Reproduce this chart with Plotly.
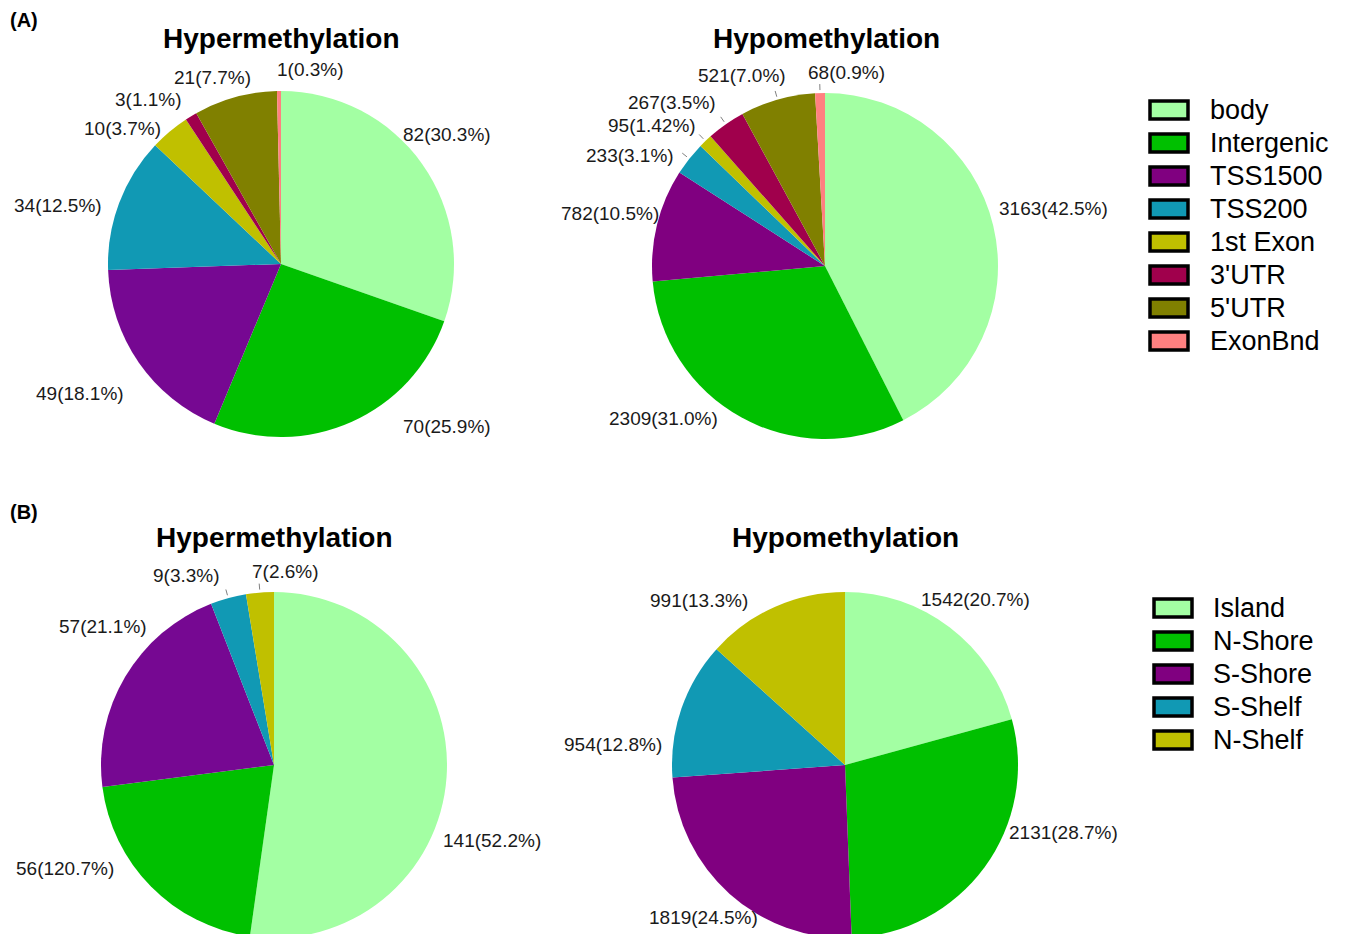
import math
import plotly.graph_objects as go

# ---- data ----
gene_regions = ["body", "Intergenic", "TSS1500", "TSS200", "1st Exon", "3'UTR", "5'UTR", "ExonBnd"]
gene_hyper = [82, 70, 49, 34, 10, 3, 21, 1]
gene_hyper_text = ["82(30.3%)", "70(25.9%)", "49(18.1%)", "34(12.5%)", "10(3.7%)", "3(1.1%)", "21(7.7%)", "1(0.3%)"]
gene_hypo = [3163, 2309, 782, 233, 95, 267, 521, 68]
gene_hypo_text = ["3163(42.5%)", "2309(31.0%)", "782(10.5%)", "233(3.1%)", "95(1.42%)", "267(3.5%)", "521(7.0%)", "68(0.9%)"]

cpg_regions = ["Island", "N-Shore", "S-Shore", "S-Shelf", "N-Shelf"]
cpg_hyper = [141, 56, 57, 9, 7]
cpg_hyper_text = ["141(52.2%)", "56(120.7%)", "57(21.1%)", "9(3.3%)", "7(2.6%)"]
cpg_hypo = [1542, 2131, 1819, 954, 991]
cpg_hypo_text = ["1542(20.7%)", "2131(28.7%)", "1819(24.5%)", "954(12.8%)", "991(13.3%)"]

gene_colors = ["#A3FFA3", "#00C000", "#800080", "#1199B4", "#C0C000", "#A0004C", "#808000", "#FF8080"]
gene_colors_hyper = ["#A3FFA3", "#00C000", "#760892", "#1199B4", "#C0C000", "#A0004C", "#808000", "#FF8080"]
cpg_colors = ["#A3FFA3", "#00C000", "#800080", "#1199B4", "#C0C000"]
cpg_colors_hyper = ["#A3FFA3", "#00C000", "#760892", "#1199B4", "#C0C000"]

# label placement around each pie: (angle nudge from slice middle in degrees, distance from centre in px)
gene_hyper_lbl = [(-2.6, 211), (-21.7, 232), (2.0, 239), (-5.9, 231), (-9.5, 208), (-7.4, 211), (-4.7, 199), (9.2, 197)]
gene_hypo_lbl = [(-0.7, 236), (17.8, 222), (0.0, 221), (-8.7, 224), (-7.1, 223), (-8.0, 224), (-7.6, 208), (7.9, 195)]
cpg_hyper_lbl = [(15.2, 231), (18.2, 233), (8.2, 220), (-9.3, 209), (8.2, 194)]
cpg_hypo_lbl = [(0.8, 211), (-19.2, 229), (0.9, 208), (-14.0, 233), (-17.5, 220)]
# slices whose label gets a short leader tick at the rim
gene_hyper_tick = [False] * 8
gene_hypo_tick = [False, False, False, True, True, True, True, True]
cpg_hyper_tick = [False, False, False, True, True]
cpg_hypo_tick = [False] * 5

W, H = 1349, 940
FONT = "Liberation Sans, Arial, sans-serif"
TXT = "#1a1a1a"


def px_x(x):
    return x / W


def px_y(y):
    return 1 - y / H


def domain(cx, cy, r):
    return dict(x=[px_x(cx - r), px_x(cx + r)], y=[px_y(cy + r), px_y(cy - r)])


fig = go.Figure()
annotations = []
shapes = []

pies = [
    (gene_regions, gene_hyper, gene_hyper_text, gene_colors_hyper, gene_hyper_lbl, gene_hyper_tick, (281, 264, 173)),
    (gene_regions, gene_hypo, gene_hypo_text, gene_colors, gene_hypo_lbl, gene_hypo_tick, (825, 266, 173)),
    (cpg_regions, cpg_hyper, cpg_hyper_text, cpg_colors_hyper, cpg_hyper_lbl, cpg_hyper_tick, (274, 765, 173)),
    (cpg_regions, cpg_hypo, cpg_hypo_text, cpg_colors, cpg_hypo_lbl, cpg_hypo_tick, (845, 765, 173)),
]

for labels, values, text, colors, lbl, ticks, (cx, cy, r) in pies:
    fig.add_trace(go.Pie(
        labels=labels,
        values=values,
        text=text,
        textinfo="none",
        marker=dict(colors=colors, line=dict(width=0)),
        sort=False,
        direction="clockwise",
        rotation=0,
        hole=0,
        showlegend=False,
        domain=domain(cx, cy, r),
    ))
    total = float(sum(values))
    cum = 0.0
    for v, t, (dang, dist), tick in zip(values, text, lbl, ticks):
        mid = (cum + v / 2.0) / total * 360.0
        cum += v
        a = math.radians(mid + dang)
        lx = cx + dist * math.sin(a)
        ly = cy - dist * math.cos(a)
        annotations.append(dict(text=t, x=px_x(lx), y=px_y(ly), xref="paper", yref="paper",
                                xanchor="center", yanchor="middle", showarrow=False,
                                font=dict(family=FONT, size=19, color=TXT)))
        if tick:
            am = math.radians(mid)
            r0, r1 = r + 3, r + 9
            shapes.append(dict(type="line", xref="paper", yref="paper",
                               x0=px_x(cx + r0 * math.sin(am)), y0=px_y(cy - r0 * math.cos(am)),
                               x1=px_x(cx + r1 * math.sin(am)), y1=px_y(cy - r1 * math.cos(am)),
                               line=dict(color="#808080", width=1)))

# panel titles
for title, x, y in [("Hypermethylation", 281, 38), ("Hypomethylation", 826, 38),
                    ("Hypermethylation", 274, 537), ("Hypomethylation", 845, 537)]:
    annotations.append(dict(text="<b>%s</b>" % title, x=px_x(x), y=px_y(y), xref="paper", yref="paper",
                            xanchor="center", yanchor="middle", showarrow=False,
                            font=dict(family=FONT, size=28, color="#000")))
# panel tags
for tag, y in [("(A)", 20), ("(B)", 512)]:
    annotations.append(dict(text="<b>%s</b>" % tag, x=px_x(8), y=px_y(y), xref="paper", yref="paper",
                            xanchor="left", yanchor="middle", showarrow=False,
                            font=dict(family=FONT, size=20, color="#000")))

# legends drawn as framed swatches with labels
for names, colors, y0, x_sw, x_txt in [(gene_regions, gene_colors, 110, 1150, 1208),
                                       (cpg_regions, cpg_colors, 608, 1154, 1211)]:
    for i, (name, col) in enumerate(zip(names, colors)):
        yc = y0 + i * 33
        shapes.append(dict(type="rect", xref="paper", yref="paper",
                           x0=px_x(x_sw), x1=px_x(x_sw + 38),
                           y0=px_y(yc + 9), y1=px_y(yc - 9),
                           fillcolor=col, line=dict(color="#000", width=3.5)))
        annotations.append(dict(text=name, x=px_x(x_txt), y=px_y(yc), xref="paper", yref="paper",
                                xanchor="left", yanchor="middle", showarrow=False,
                                font=dict(family=FONT, size=27, color="#000")))

fig.update_layout(
    width=W, height=H,
    margin=dict(l=0, r=0, t=0, b=0),
    paper_bgcolor="white",
    plot_bgcolor="white",
    annotations=annotations,
    shapes=shapes,
    showlegend=False,
)

fig.write_html("out.html", post_script="document.documentElement.style.overflow='hidden';document.body.style.overflow='hidden';")
